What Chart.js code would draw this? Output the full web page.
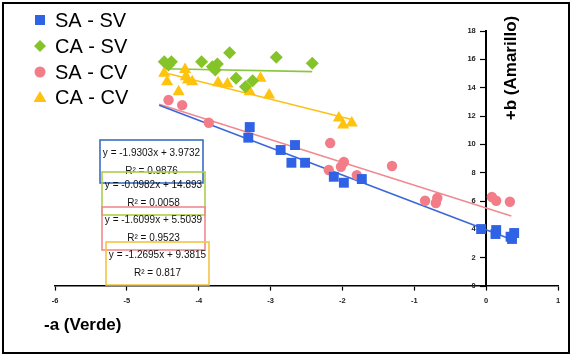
<!DOCTYPE html>
<html><head><meta charset="utf-8">
<script src="https://cdn.jsdelivr.net/npm/chart.js@4/dist/chart.umd.min.js"></script>
<style>html,body{margin:0;padding:0;background:#fff}canvas{display:block}</style>
</head><body>
<canvas id="c" width="573" height="358"></canvas>
<script>
// ---- data ----
const seriesNames = ['SA - SV', 'CA - SV', 'SA - CV', 'CA - CV'];
const saSvX = [-3.29, -3.31, -2.86, -2.66, -2.71, -2.52, -2.12, -1.98, -1.73, -0.07, 0.14, 0.13, 0.34, 0.39, 0.36];
const saSvY = [11.22, 10.47, 9.60, 9.95, 8.70, 8.70, 7.71, 7.29, 7.55, 4.02, 3.95, 3.67, 3.48, 3.74, 3.32];
const caSvX = [-4.48, -4.38, -4.42, -3.96, -3.57, -3.81, -3.74, -3.77, -3.48, -3.25, -3.35, -2.92, -2.42];
const caSvY = [15.83, 15.83, 15.60, 15.83, 16.46, 15.48, 15.67, 15.24, 14.66, 14.49, 14.07, 16.14, 15.72];
const saCvX = [-4.42, -4.23, -3.86, -2.17, -1.98, -2.02, -2.19, -1.80, -1.31, -0.85, -0.68, -0.70, 0.08, 0.14, 0.33];
const saCvY = [13.13, 12.77, 11.52, 10.09, 8.75, 8.42, 8.19, 7.83, 8.47, 6.02, 6.21, 5.86, 6.28, 6.02, 5.95];
const caCvX = [-4.48, -4.44, -4.19, -4.18, -4.15, -4.09, -4.28, -3.73, -3.60, -3.29, -3.14, -3.02, -2.05, -1.99, -1.87];
const caCvY = [15.01, 14.42, 15.29, 14.77, 14.54, 14.42, 13.71, 14.35, 14.26, 13.71, 14.66, 13.48, 11.86, 11.36, 11.50];
const trendSlope = [-1.9303, -0.0982, -1.6099, -1.2695];
const trendIntercept = [3.9732, 14.893, 5.5039, 9.3815];
const trendXStart = [-4.55, -4.5, -4.55, -4.5];
const trendXEnd = [0.40, -2.42, 0.35, -1.87];
const r2Values = ['0.9876', '0.0058', '0.9523', '0.817'];
const xTickMin = -6, xTickMax = 1, xTickStep = 1;
const yTickMin = 0, yTickMax = 18, yTickStep = 2;
const xTitle = '-a (Verde)';
const yTitle = '+b (Amarillo)';

// ---- styles ----
const colors = ['#2F62E4', '#84C428', '#F27D88', '#FFC20E'];
const lineColors = ['#3A67DA', '#8CC63F', '#F08A92', '#F9C21A'];
const boxColors = ['#3C6DC2', '#A9D04C', '#F08A92', '#F6C443'];
const pointStyles = ['rect', 'rectRot', 'circle', 'triangle'];
const pointRadii = [7, 6.5, 5.2, 7];
const xsAll = [saSvX, caSvX, saCvX, caCvX];
const ysAll = [saSvY, caSvY, saCvY, caCvY];

const datasets = [];
for (let i = 0; i < 4; i++) {
  datasets.push({
    type: 'scatter',
    label: seriesNames[i],
    data: xsAll[i].map((x, j) => ({x: x, y: ysAll[i][j]})),
    pointStyle: pointStyles[i],
    pointRadius: pointRadii[i],
    pointHoverRadius: pointRadii[i],
    backgroundColor: colors[i],
    borderColor: colors[i],
    borderWidth: 0,
    showLine: false,
    order: 1
  });
}
for (let i = 0; i < 4; i++) {
  datasets.push({
    type: 'line',
    label: 'trend ' + seriesNames[i],
    data: [trendXStart[i], trendXEnd[i]].map(x => ({x: x, y: trendSlope[i] * x + trendIntercept[i]})),
    borderColor: lineColors[i],
    borderWidth: 1.6,
    pointRadius: 0,
    fill: false,
    order: 2
  });
}

function fmt(v) { return String(v); }

const overlay = {
  id: 'overlay',
  afterDraw(chart) {
    const ctx = chart.ctx;
    const xs = chart.scales.x;
    ctx.save();
    // outer frame
    ctx.strokeStyle = '#000';
    ctx.lineWidth = 2;
    ctx.strokeRect(3, 3, 566, 350);

    // legend
    ctx.font = '20px "Liberation Sans", Arial, sans-serif';
    ctx.textBaseline = 'middle';
    ctx.textAlign = 'left';
    const legY = [20, 46, 72, 97];
    for (let i = 0; i < 4; i++) {
      const mx = 40, my = legY[i];
      ctx.fillStyle = colors[i];
      ctx.beginPath();
      if (pointStyles[i] === 'rect') {
        ctx.rect(mx - 5, my - 5, 10, 10);
      } else if (pointStyles[i] === 'rectRot') {
        ctx.moveTo(mx, my - 6); ctx.lineTo(mx + 6, my); ctx.lineTo(mx, my + 6); ctx.lineTo(mx - 6, my); ctx.closePath();
      } else if (pointStyles[i] === 'circle') {
        ctx.arc(mx, my, 5.5, 0, Math.PI * 2);
      } else {
        ctx.moveTo(mx, my - 6); ctx.lineTo(mx + 6.5, my + 5); ctx.lineTo(mx - 6.5, my + 5); ctx.closePath();
      }
      ctx.fill();
      ctx.fillStyle = '#000';
      ctx.fillText(chart.data.datasets[i].label, 55, my + 1);
    }

    // equation boxes
    const boxL = [100, 102, 102, 106], boxT = [140, 172, 207, 242];
    const boxW = 103, boxH = 43;
    ctx.font = '10px "Liberation Sans", Arial, sans-serif';
    ctx.textAlign = 'center';
    for (let i = 0; i < 4; i++) {
      ctx.strokeStyle = boxColors[i];
      ctx.lineWidth = 1.6;
      ctx.strokeRect(boxL[i], boxT[i], boxW, boxH);
      ctx.fillStyle = '#111';
      const cx = boxL[i] + boxW / 2;
      const sign = trendIntercept[i] >= 0 ? ' + ' : ' - ';
      ctx.fillText('y = ' + fmt(trendSlope[i]) + 'x' + sign + fmt(Math.abs(trendIntercept[i])), cx, boxT[i] + 13);
      ctx.fillText('R\u00B2 = ' + r2Values[i], cx, boxT[i] + 31);
    }

    // axis titles
    ctx.fillStyle = '#000';
    ctx.font = 'bold 17px "Liberation Sans", Arial, sans-serif';
    ctx.textAlign = 'left';
    ctx.fillText(xTitle, 44, 325);
    const x0 = xs.getPixelForValue(0);
    ctx.translate(x0 + 25, 68);
    ctx.rotate(-Math.PI / 2);
    ctx.textAlign = 'center';
    ctx.fillText(yTitle, 0, 0);
    ctx.restore();
  }
};

new Chart(document.getElementById('c'), {
  data: {datasets: datasets},
  options: {
    responsive: false,
    animation: false,
    devicePixelRatio: 1,
    layout: {padding: {left: 55, right: 15, top: 31, bottom: 72}},
    plugins: {legend: {display: false}, tooltip: {enabled: false}},
    scales: {
      x: {
        type: 'linear',
        position: {y: 0},
        min: xTickMin, max: xTickMax,
        ticks: {stepSize: xTickStep, color: '#222', font: {size: 7.5, weight: 'bold', family: '"Liberation Sans", Arial'}, padding: 6},
        grid: {drawOnChartArea: false, drawTicks: true, tickLength: 4, color: '#000', tickWidth: 1.2},
        border: {display: true, color: '#000', width: 1.6}
      },
      y: {
        type: 'linear',
        position: {x: 0},
        min: yTickMin, max: yTickMax,
        ticks: {
          stepSize: yTickStep, color: '#222',
          font: {size: 7.5, weight: 'bold', family: '"Liberation Sans", Arial'},
          callback: (v) => v + '     '
        },
        grid: {drawOnChartArea: false, drawTicks: true, tickLength: 5, color: '#000', tickWidth: 1.2},
        border: {display: true, color: '#000', width: 2}
      }
    }
  },
  plugins: [overlay]
});
</script>
</body></html>
